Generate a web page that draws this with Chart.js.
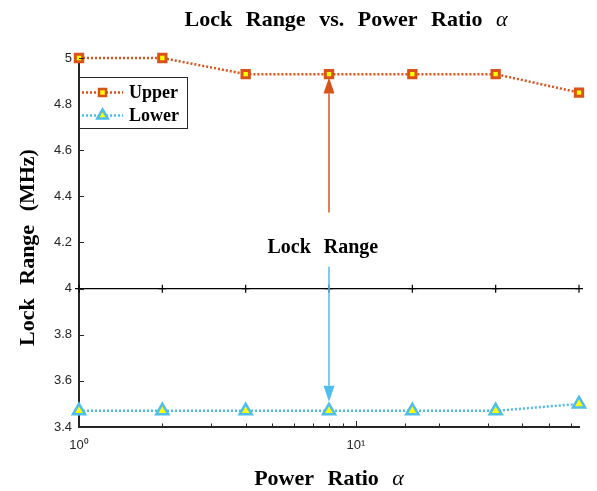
<!DOCTYPE html>
<html>
<head>
<meta charset="utf-8">
<script src="https://cdn.jsdelivr.net/npm/chart.js@4.4.0/dist/chart.umd.min.js"></script>
<style>
  html, body { margin: 0; padding: 0; background: #fff; }
  #wrap { width: 597px; height: 491px; }
</style>
</head>
<body>
<div id="wrap"><canvas id="lockChart" width="597" height="491"></canvas></div>
<script>
// data
const powerRatio = [1, 2, 4, 8, 16, 32, 64];
const upperRange = [5.00, 5.00, 4.93, 4.93, 4.93, 4.93, 4.85];
const lowerRange = [3.47, 3.47, 3.47, 3.47, 3.47, 3.47, 3.50];
const midLine = [4, 4, 4, 4, 4, 4, 4];
const yTicks = [3.4, 3.6, 3.8, 4, 4.2, 4.4, 4.6, 4.8, 5];
const xTickLabels = { 1: '10⁰', 10: '10¹' };

// arrow annotation (x in alpha, y in MHz)
const arrowX = 8;
const upperArrow = [4.33, 4.915];
const lowerArrow = [4.095, 3.51];
const rangeLabel = { x: 7.6, y: 4.2, text: 'Lock Range' };

const ORANGE = '#D95319';
const BLUE = '#4DBEEE';
const YELLOW = '#FFFF00';
const AXIS = '#262626';
const SERIF = '"Liberation Serif", "Times New Roman", serif';

// draw words with MATLAB-like wide gaps; parts = [{text, italic}]
function drawWords(ctx, parts, cx, cy, size, gap) {
    const fontOf = p => (p.italic ? 'italic ' : 'bold ') + size + 'px ' + SERIF;
    let total = 0;
    parts.forEach((p, i) => {
        ctx.font = fontOf(p);
        p.w = ctx.measureText(p.text).width;
        total += p.w + (i > 0 ? gap : 0);
    });
    let x = cx - total / 2;
    ctx.textAlign = 'left';
    ctx.textBaseline = 'alphabetic';
    parts.forEach(p => {
        ctx.font = fontOf(p);
        ctx.fillText(p.text, x, cy);
        x += p.w + gap;
    });
}

const decorPlugin = {
    id: 'decor',
    afterDatasetsDraw(chart) {
        const { ctx, chartArea: area, scales: { x, y } } = chart;
        ctx.save();

        // inward tick marks
        ctx.strokeStyle = AXIS;
        ctx.lineWidth = 1;
        x.ticks.forEach(t => {
            if (t.value >= 64) return;
            const px = Math.round(x.getPixelForValue(t.value)) + 0.5;
            const len = (t.value === 1 || t.value === 10) ? 6 : 3.5;
            ctx.beginPath();
            ctx.moveTo(px, area.bottom);
            ctx.lineTo(px, area.bottom - len);
            ctx.stroke();
        });
        yTicks.forEach(v => {
            const py = Math.round(y.getPixelForValue(v)) + 0.5;
            ctx.beginPath();
            ctx.moveTo(area.left, py);
            ctx.lineTo(area.left + 5, py);
            ctx.stroke();
        });

        // arrows
        const ax = x.getPixelForValue(arrowX);
        const drawArrow = (from, to, color) => {
            const y0 = y.getPixelForValue(from);
            const y1 = y.getPixelForValue(to);
            const dir = y1 < y0 ? 1 : -1;
            const head = 16;
            ctx.strokeStyle = color;
            ctx.fillStyle = color;
            ctx.lineWidth = 1.5;
            ctx.beginPath();
            ctx.moveTo(ax, y0);
            ctx.lineTo(ax, y1 + dir * head);
            ctx.stroke();
            ctx.beginPath();
            ctx.moveTo(ax, y1);
            ctx.lineTo(ax - 5.5, y1 + dir * head);
            ctx.lineTo(ax + 5.5, y1 + dir * head);
            ctx.closePath();
            ctx.fill();
        };
        drawArrow(upperArrow[0], upperArrow[1], ORANGE);
        drawArrow(lowerArrow[0], lowerArrow[1], BLUE);

        ctx.fillStyle = '#000';
        drawWords(ctx, [{ text: 'Lock' }, { text: 'Range' }],
            x.getPixelForValue(rangeLabel.x), y.getPixelForValue(rangeLabel.y) + 10, 20, 13);

        // titles
        drawWords(ctx, [{ text: 'Lock' }, { text: 'Range' }, { text: 'vs.' }, { text: 'Power' }, { text: 'Ratio' }, { text: 'α', italic: true }],
            346, 26, 22, 13.5);
        drawWords(ctx, [{ text: 'Power' }, { text: 'Ratio' }, { text: 'α', italic: true }],
            (area.left + area.right) / 2, 485, 22, 13.5);
        ctx.translate(34, (area.top + area.bottom) / 2 + 5);
        ctx.rotate(-Math.PI / 2);
        drawWords(ctx, [{ text: 'Lock' }, { text: 'Range' }, { text: '(MHz)' }], 0, 0, 22, 13.5);
        ctx.restore();

        // legend
        ctx.save();
        const lx = 79.5, ly = 77.5, lw = 108, lh = 51;
        ctx.fillStyle = '#fff';
        ctx.fillRect(lx, ly, lw, lh);
        ctx.strokeStyle = AXIS;
        ctx.lineWidth = 1;
        ctx.strokeRect(lx, ly, lw, lh);
        const rows = [
            { label: 'Upper', color: ORANGE, yy: 92.5, shape: 'rect' },
            { label: 'Lower', color: BLUE, yy: 115.5, shape: 'tri' }
        ];
        rows.forEach(r => {
            ctx.strokeStyle = r.color;
            ctx.lineWidth = 2.5;
            ctx.setLineDash([2, 2]);
            ctx.beginPath();
            ctx.moveTo(82, r.yy);
            ctx.lineTo(123, r.yy);
            ctx.stroke();
            ctx.setLineDash([]);
            ctx.fillStyle = YELLOW;
            ctx.lineWidth = 2.5;
            ctx.beginPath();
            if (r.shape === 'rect') {
                ctx.rect(102.5 - 3.5, r.yy - 3.5, 7, 7);
            } else {
                ctx.moveTo(102.5, r.yy - 6);
                ctx.lineTo(102.5 + 5.2, r.yy + 3);
                ctx.lineTo(102.5 - 5.2, r.yy + 3);
                ctx.closePath();
            }
            ctx.fill();
            ctx.stroke();
            ctx.fillStyle = '#000';
            ctx.font = 'bold 18px ' + SERIF;
            ctx.textAlign = 'left';
            ctx.textBaseline = 'middle';
            ctx.fillText(r.label, 129, r.yy + 1);
        });
        ctx.restore();
    }
};

const ctx = document.getElementById('lockChart').getContext('2d');
const lockChart = new Chart(ctx, {
    type: 'line',
    data: {
        labels: powerRatio,
        datasets: [
            {
                label: 'mid',
                data: powerRatio.map((p, i) => ({ x: p, y: midLine[i] })),
                borderColor: '#000',
                borderWidth: 1.3,
                pointStyle: 'cross',
                pointRadius: 4,
                pointBorderColor: '#000',
                pointBorderWidth: 1.2,
                clip: false
            },
            {
                label: 'Upper',
                data: powerRatio.map((p, i) => ({ x: p, y: upperRange[i] })),
                borderColor: ORANGE,
                borderWidth: 2.5,
                borderDash: [2, 2],
                pointStyle: 'rect',
                pointRadius: 5.2,
                pointBackgroundColor: YELLOW,
                pointBorderColor: ORANGE,
                pointBorderWidth: 3,
                clip: false
            },
            {
                label: 'Lower',
                data: powerRatio.map((p, i) => ({ x: p, y: lowerRange[i] })),
                borderColor: BLUE,
                borderWidth: 2.5,
                borderDash: [2, 2],
                pointStyle: 'triangle',
                pointRadius: 7,
                pointBackgroundColor: YELLOW,
                pointBorderColor: BLUE,
                pointBorderWidth: 2.5,
                clip: false
            }
        ]
    },
    options: {
        responsive: false,
        animation: false,
        layout: { padding: { left: 0, right: 18, top: 58, bottom: 0 } },
        plugins: {
            legend: { display: false },
            title: { display: false },
            tooltip: { enabled: false }
        },
        scales: {
            x: {
                type: 'logarithmic',
                min: 1,
                max: 64,
                afterFit(scale) { scale.height = 64; },
                border: { display: true, color: AXIS, width: 2 },
                grid: { drawOnChartArea: false, drawTicks: false },
                ticks: {
                    autoSkip: false,
                    maxRotation: 0,
                    padding: 11,
                    color: AXIS,
                    font: { family: '"Liberation Sans", Arial, sans-serif', size: 13 },
                    callback: v => xTickLabels[v] || ''
                }
            },
            y: {
                min: 3.4,
                max: 5,
                afterFit(scale) { scale.width = 79; },
                afterBuildTicks(scale) { scale.ticks = yTicks.map(v => ({ value: v })); },
                border: { display: true, color: AXIS, width: 2 },
                grid: { drawOnChartArea: false, drawTicks: false },
                ticks: {
                    padding: 7,
                    color: AXIS,
                    font: { family: '"Liberation Sans", Arial, sans-serif', size: 13 },
                    callback: v => String(Number(v.toFixed(1)))
                }
            }
        }
    },
    plugins: [decorPlugin]
});
</script>
</body>
</html>
